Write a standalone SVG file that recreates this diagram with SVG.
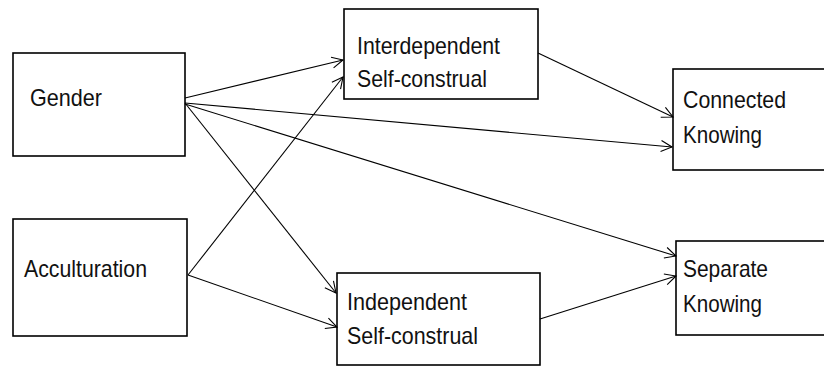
<svg xmlns="http://www.w3.org/2000/svg" width="824" height="367" viewBox="0 0 824 367">
<style>
.box{fill:#fff;stroke:#000;stroke-width:1.6}
.lbl{font-family:"Liberation Sans",Arial,sans-serif;font-size:24px;fill:#111}
.edge{fill:none;stroke:#000;stroke-width:1.1;marker-end:url(#arr)}
</style>
<defs>
<marker id="arr" markerWidth="14" markerHeight="14" refX="12" refY="7" orient="auto" markerUnits="userSpaceOnUse">
<path d="M1,1.5 L12,7 L1,12.5" fill="none" stroke="#000" stroke-width="1.1"/>
</marker>
</defs>
<rect width="824" height="367" fill="#fff"/>
<g id="gender"><rect class="box" x="13" y="53" width="172" height="103"/><text class="lbl" x="30" y="106" textLength="72" lengthAdjust="spacingAndGlyphs">Gender</text></g>
<g id="acculturation"><rect class="box" x="13" y="219" width="174" height="117"/><text class="lbl" x="24" y="277" textLength="123" lengthAdjust="spacingAndGlyphs">Acculturation</text></g>
<g id="interdependent"><rect class="box" x="344" y="9" width="194" height="90"/><text class="lbl" x="357" y="54" textLength="143" lengthAdjust="spacingAndGlyphs">Interdependent</text><text class="lbl" x="357" y="87" textLength="130" lengthAdjust="spacingAndGlyphs">Self-construal</text></g>
<g id="independent"><rect class="box" x="337" y="273" width="203" height="92"/><text class="lbl" x="347" y="310" textLength="120" lengthAdjust="spacingAndGlyphs">Independent</text><text class="lbl" x="347" y="344" textLength="131" lengthAdjust="spacingAndGlyphs">Self-construal</text></g>
<g id="connected"><rect class="box" x="673" y="69" width="160" height="101"/><text class="lbl" x="683" y="108" textLength="103" lengthAdjust="spacingAndGlyphs">Connected</text><text class="lbl" x="683" y="143" textLength="79" lengthAdjust="spacingAndGlyphs">Knowing</text></g>
<g id="separate"><rect class="box" x="676" y="241" width="160" height="94"/><text class="lbl" x="683" y="277" textLength="85" lengthAdjust="spacingAndGlyphs">Separate</text><text class="lbl" x="683" y="312" textLength="79" lengthAdjust="spacingAndGlyphs">Knowing</text></g>
<g id="connectors">
<line class="edge" x1="185" y1="98" x2="343" y2="60"/>
<line class="edge" x1="188" y1="275" x2="343" y2="77"/>
<line class="edge" x1="185" y1="103" x2="336" y2="293"/>
<line class="edge" x1="188" y1="275" x2="337" y2="327"/>
<line class="edge" x1="185" y1="103" x2="672" y2="147"/>
<line class="edge" x1="538" y1="53" x2="673" y2="117"/>
<line class="edge" x1="185" y1="104" x2="676" y2="256"/>
<line class="edge" x1="540" y1="319" x2="676" y2="276"/>
</g>
</svg>
